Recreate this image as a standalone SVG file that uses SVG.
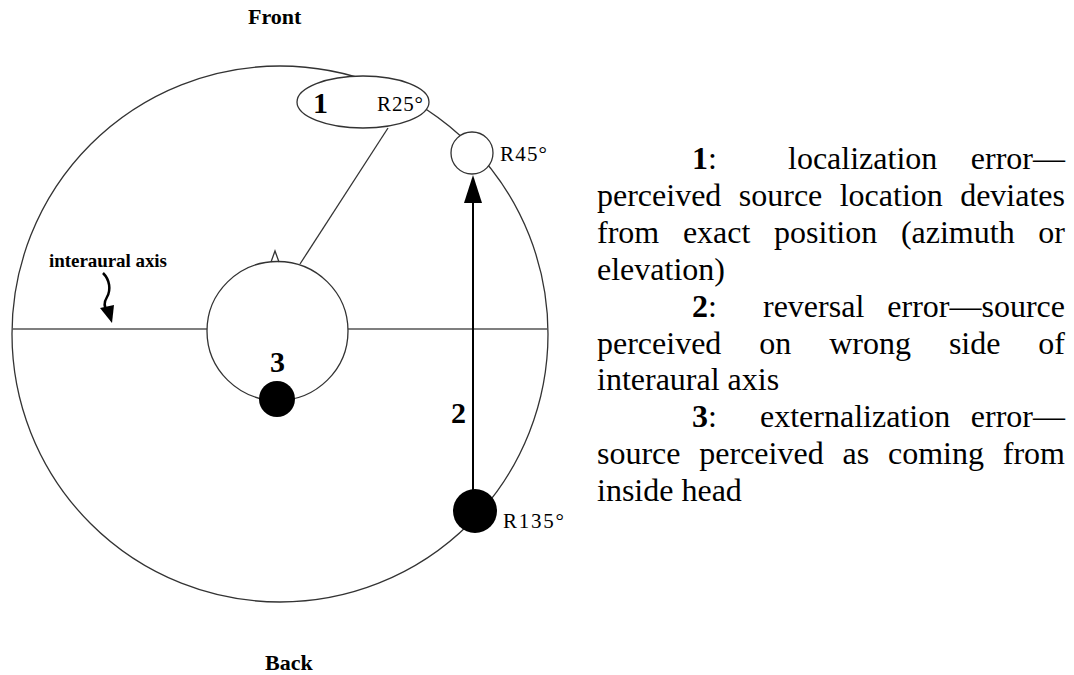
<svg xmlns="http://www.w3.org/2000/svg" width="1074" height="675" viewBox="0 0 1074 675">
<style>
.ln{fill:none;stroke:#333;stroke-width:1.3}
.wh{fill:#fff;stroke:#333;stroke-width:1.3}
.blk{fill:#000}
.big{font-family:"Liberation Serif","Times New Roman",serif;font-weight:bold;font-size:30px;fill:#000}
.lab{font-family:"Liberation Serif","Times New Roman",serif;font-size:21px;fill:#000}
.hd{font-family:"Liberation Serif","Times New Roman",serif;font-weight:bold;font-size:22px;fill:#000}
.par{font-family:"Liberation Serif","Times New Roman",serif;font-size:32px;fill:#000}
.b{font-weight:bold}
</style>
<rect width="1074" height="675" fill="#fff"/>
<g id="outer-circle"><circle class="ln" cx="280" cy="334" r="268"/></g>
<g id="axis">
<line x1="12" y1="329" x2="207" y2="329" stroke="#555" stroke-width="1.6"/>
<line x1="348" y1="329" x2="548" y2="329" stroke="#555" stroke-width="1.6"/>
</g>
<g id="connectors">
<line x1="388" y1="128" x2="300" y2="264" stroke="#333" stroke-width="1.3"/>
<line x1="473" y1="490" x2="473" y2="200" stroke="#000" stroke-width="2"/>
<polygon points="473,175 464,203 482,203" fill="#000"/>
<path d="M103,273 C110,280 111,290 107,297 C104,302 104,307 107,311" fill="none" stroke="#000" stroke-width="2.5"/>
<polygon points="100,308 114,305 112,323" fill="#000"/>
</g>
<g id="head">
<ellipse class="wh" cx="277.5" cy="331" rx="70.5" ry="69.5"/>
<polyline class="ln" points="271,262 275,251 279,262"/>
</g>
<g id="node-1">
<ellipse class="wh" cx="363" cy="102" rx="66" ry="26"/>
<text class="big" x="313" y="113">1</text>
<text class="lab" x="377" y="111" textLength="46">R25°</text>
</g>
<g id="node-r45">
<circle class="wh" cx="472" cy="153" r="21"/>
<text class="lab" x="500" y="161" textLength="47">R45°</text>
</g>
<g id="node-r135">
<circle class="blk" cx="475" cy="511" r="22"/>
<text class="lab" x="503" y="528" textLength="61">R135°</text>
</g>
<g id="node-3">
<circle class="blk" cx="277" cy="399" r="18"/>
<text class="big" x="277.5" y="372" text-anchor="middle">3</text>
</g>
<g id="label-2"><text class="big" x="451" y="423">2</text></g>
<g id="label-axis"><text class="hd" x="49" y="267" font-size="19" style="font-size:19px" textLength="118">interaural axis</text></g>
<g id="label-front"><text class="hd" x="248" y="24">Front</text></g>
<g id="label-back"><text class="hd" x="265" y="670">Back</text></g>
<g id="legend">
<text class="par" y="169"><tspan x="692" class="b">1</tspan><tspan>:</tspan><tspan x="788">localization</tspan><tspan x="1065" text-anchor="end">error—</tspan></text>
<text class="par" y="205.9"><tspan x="597">perceived</tspan><tspan x="738.8">source</tspan><tspan x="839.7">location</tspan><tspan x="1065" text-anchor="end">deviates</tspan></text>
<text class="par" y="242.8"><tspan x="597">from</tspan><tspan x="682.9">exact</tspan><tspan x="774.1">position</tspan><tspan x="900.9">(azimuth</tspan><tspan x="1065" text-anchor="end">or</tspan></text>
<text class="par" x="597" y="279.7">elevation)</text>
<text class="par" y="316.6"><tspan x="692" class="b">2</tspan><tspan>:</tspan><tspan x="763">reversal</tspan><tspan x="1065" text-anchor="end">error—source</tspan></text>
<text class="par" y="353.5"><tspan x="597">perceived</tspan><tspan x="759.3">on</tspan><tspan x="829.2">wrong</tspan><tspan x="948.9">side</tspan><tspan x="1065" text-anchor="end">of</tspan></text>
<text class="par" x="597" y="390.4">interaural axis</text>
<text class="par" y="427.3"><tspan x="692" class="b">3</tspan><tspan>:</tspan><tspan x="760">externalization</tspan><tspan x="1065" text-anchor="end">error—</tspan></text>
<text class="par" y="464.2"><tspan x="597">source</tspan><tspan x="699.3">perceived</tspan><tspan x="842.5">as</tspan><tspan x="888">coming</tspan><tspan x="1065" text-anchor="end">from</tspan></text>
<text class="par" x="597" y="501.1">inside head</text>
</g>
</svg>
